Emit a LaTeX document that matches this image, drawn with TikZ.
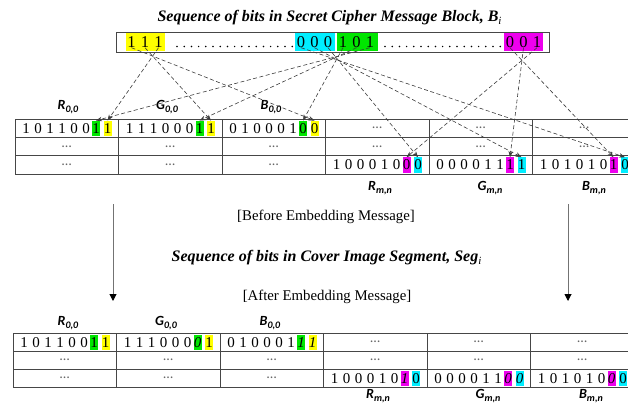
\documentclass[tikz,border=0pt]{standalone}
\usepackage{fontspec}
\setmainfont{Liberation Serif}
\newfontfamily\labfont{Carlito}
\usetikzlibrary{arrows.meta}

% highlight colours
\definecolor{hlyellow}{RGB}{255,255,0}
\definecolor{hlgreen}{RGB}{0,230,0}
\definecolor{hlcyan}{RGB}{0,238,255}
\definecolor{hlmagenta}{RGB}{238,0,238}
\definecolor{gridline}{RGB}{70,70,70}
\definecolor{linkline}{RGB}{60,60,60}

% channel label such as R_{0,0}
\newcommand{\chlab}[2]{{\labfont\bfseries\itshape #1\raisebox{-2.8pt}{\fontsize{10}{10}\selectfont #2}}}

% six plain bits plus two highlighted bits inside one table cell
% #1 name, #2 left x, #3 top y, #4 six digits, #5/#6 first colour/bit, #7/#8 second colour/bit
\newcommand{\cellbits}[8]{%
  \foreach \d [count=\k] in {#4} {
    \node[bit] (#1-\k) at ({#2+11+12*(\k-1)}, {#3+9.5}) {\d};
  }
  \node[hlbox, fill=#5] (#1-a) at ({#2+81}, {#3+9.5}) {#6};
  \node[hlbox, fill=#7] (#1-b) at ({#2+92.5}, {#3+9.5}) {#8};
}

\tikzset{
  bit/.style={inner sep=0pt, text height=9.5pt, text depth=0pt, font=\fontsize{15}{15}\selectfont},
  hlbox/.style={bit, minimum width=8pt, minimum height=15.5pt},
  topbit/.style={inner sep=0pt, text height=11pt, text depth=0pt, font=\fontsize{16.5}{16.5}\selectfont},
  grid/.style={draw=gridline, line width=0.9pt},
  gap/.style={inner sep=0pt, text=black!60, font=\labfont\fontsize{14}{14}\selectfont},
  chname/.style={inner sep=0pt, font=\fontsize{14}{14}\selectfont},
  caption/.style={inner sep=0pt, font=\fontsize{14.8}{14.8}\selectfont},
  heading/.style={inner sep=0pt, font=\fontsize{16}{16}\selectfont\bfseries\itshape},
  link/.style={draw=linkline, line width=0.6pt, dash pattern=on 4pt off 2.5pt,
               -{Stealth[length=6pt, width=4.5pt]}},
  flow/.style={draw=black!55, line width=1pt, -{Triangle[length=7pt, width=7pt, color=black]}},
}

\begin{document}
\begin{tikzpicture}[x=1pt, y=-1pt]
\useasboundingbox (0,0) rectangle (628,404);
\clip (0,0) rectangle (628,404);

% ---------------- message block ----------------
\node[heading] (title) at (329.5,18) {Sequence of bits in Secret Cipher Message Block, B\raisebox{-2.8pt}{\fontsize{11}{11}\selectfont\mdseries\itshape i}};

\fill[hlyellow]  (126,33) rectangle (165,51);
\fill[hlcyan]    (295,33) rectangle (335,51);
\fill[hlgreen]   (337,33) rectangle (378,51);
\fill[hlmagenta] (504,33) rectangle (543,51);
\draw[grid, line width=0.8pt] (116,32) rectangle (549,52);

\foreach \g/\s/\bits in {y/131.5/{1,1,1}, c/301/{0,0,0}, g/343/{1,0,1}, m/510/{0,0,1}} {
  \foreach \b [count=\k] in \bits {
    \node[topbit] (m\g\k) at ({\s+13.5*(\k-1)}, 42) {\b};
  }
}
\foreach \i in {0,...,16} {
  \fill (177+7.2*\i, 46.5) circle (0.85pt);
  \fill (385+7.2*\i, 46.5) circle (0.85pt);
}

% ---------------- table before embedding ----------------
\foreach \r in {0,1,2} {
  \foreach \c in {0,...,5} {
    \draw[grid] ({15+103.5*\c}, {119+18.33*\r}) rectangle ({15+103.5*(\c+1)}, {119+18.33*(\r+1)});
  }
}
\foreach \c in {3,4,5} { \node[gap] (bA\c) at ({15+103.5*\c+51.75}, 128) {\dots}; }
\foreach \c in {0,...,5} { \node[gap] (bB\c) at ({15+103.5*\c+51.75}, 146.5) {\dots}; }
\foreach \c in {0,1,2} { \node[gap] (bC\c) at ({15+103.5*\c+51.75}, 165) {\dots}; }

\cellbits{rb}{15}{119}{1,0,1,1,0,0}{hlgreen}{1}{hlyellow}{1}
\cellbits{gb}{118.5}{119}{1,1,1,0,0,0}{hlgreen}{1}{hlyellow}{1}
\cellbits{bb}{222}{119}{0,1,0,0,0,1}{hlgreen}{0}{hlyellow}{0}
\cellbits{rmb}{325.5}{155.67}{1,0,0,0,1,0}{hlmagenta}{0}{hlcyan}{0}
\cellbits{gmb}{429}{155.67}{0,0,0,0,1,1}{hlmagenta}{1}{hlcyan}{1}
\cellbits{bmb}{532.5}{155.67}{1,0,1,0,1,0}{hlmagenta}{1}{hlcyan}{0}

\node[chname] (lr0) at (68,107) {\chlab{R}{0,0}};
\node[chname] (lg0) at (167,107) {\chlab{G}{0,0}};
\node[chname] (lb0) at (271,107) {\chlab{B}{0,0}};
\node[chname] (lrm) at (380,188) {\chlab{R}{m,n}};
\node[chname] (lgm) at (490,188) {\chlab{G}{m,n}};
\node[chname] (lbm) at (594,188) {\chlab{B}{m,n}};

% ---------------- bit links ----------------
\draw[link] (my3.south) -- (rb-b.north);
\draw[link] (my2.south) -- (gb-b.north);
\draw[link] (my1.south) -- (bb-b.north);
\draw[link] (mg3.south) -- (rb-a.north);
\draw[link] (mg2.south) -- (gb-a.north);
\draw[link] (mg1.south) -- (bb-a.north);
\draw[link] (mc3.south) -- (rmb-b.north);
\draw[link] (mc2.south) -- (gmb-b.north);
\draw[link] (mc1.south) -- (bmb-b.north);
\draw[link] (mm3.south) -- (rmb-a.north);
\draw[link] (mm2.south) -- (gmb-a.north);
\draw[link] (mm1.south) -- (bmb-a.north);

% ---------------- middle captions ----------------
\coordinate (la) at (113,204);
\coordinate (lz) at (113,301);
\coordinate (ra) at (568,204);
\coordinate (rz) at (568,301);
\draw[flow] (la) -- (lz);
\draw[flow] (ra) -- (rz);

\node[caption] (before) at (326,217) {[Before Embedding Message]};
\node[heading] (segtitle) at (326.5,258) {Sequence of bits in Cover Image Segment, Seg\raisebox{-2.8pt}{\fontsize{11}{11}\selectfont\mdseries\itshape i}};
\node[caption] (after) at (327,297) {[After Embedding Message]};

% ---------------- table after embedding ----------------
\foreach \r in {0,1,2} {
  \foreach \c in {0,...,5} {
    \draw[grid] ({13+103.5*\c}, {333+18*\r}) rectangle ({13+103.5*(\c+1)}, {333+18*(\r+1)});
  }
}
\foreach \c in {3,4,5} { \node[gap] (aA\c) at ({13+103.5*\c+51.75}, 342) {\dots}; }
\foreach \c in {0,...,5} { \node[gap] (aB\c) at ({13+103.5*\c+51.75}, 360) {\dots}; }
\foreach \c in {0,1,2} { \node[gap] (aC\c) at ({13+103.5*\c+51.75}, 378) {\dots}; }

\cellbits{ra}{13}{333}{1,0,1,1,0,0}{hlgreen}{1}{hlyellow}{1}
\cellbits{ga}{116.5}{333}{1,1,1,0,0,0}{hlgreen}{\textit{0}}{hlyellow}{1}
\cellbits{ba}{220}{333}{0,1,0,0,0,1}{hlgreen}{\textit{1}}{hlyellow}{\textit{1}}
\cellbits{rma}{323.5}{369}{1,0,0,0,1,0}{hlmagenta}{\textit{1}}{hlcyan}{0}
\cellbits{gma}{427}{369}{0,0,0,0,1,1}{hlmagenta}{\textit{0}}{hlcyan}{\textit{0}}
\cellbits{bma}{530.5}{369}{1,0,1,0,1,0}{hlmagenta}{\textit{0}}{hlcyan}{0}

\node[chname] (ar0) at (68,323) {\chlab{R}{0,0}};
\node[chname] (ag0) at (166,323) {\chlab{G}{0,0}};
\node[chname] (ab0) at (270,323) {\chlab{B}{0,0}};
\node[chname] (arm) at (378,396) {\chlab{R}{m,n}};
\node[chname] (agm) at (488,396) {\chlab{G}{m,n}};
\node[chname] (abm) at (591,396) {\chlab{B}{m,n}};
\end{tikzpicture}
\end{document}
